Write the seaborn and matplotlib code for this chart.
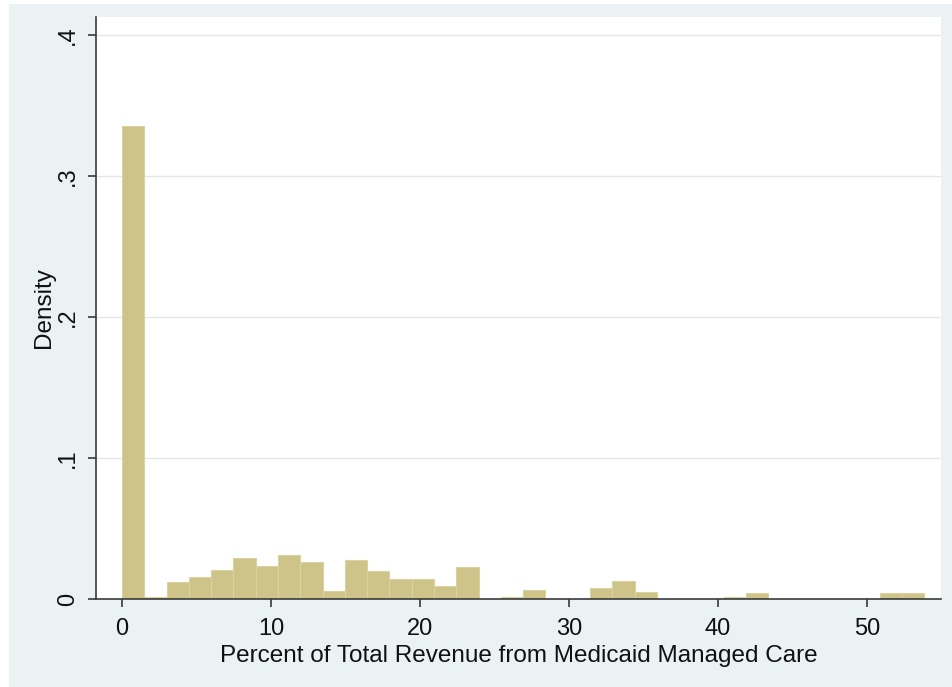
import numpy as np
import pandas as pd
import matplotlib
matplotlib.use("Agg")
import matplotlib.pyplot as plt
from matplotlib.patches import Rectangle
import seaborn as sns

# Histogram of hospitals' share of revenue from Medicaid managed care
bin_width = 1.496
n_bins = 36
densities = [0.3355, 0.0012, 0.0118, 0.0158, 0.0206, 0.0290, 0.0236, 0.0312,
             0.0262, 0.0054, 0.0279, 0.0201, 0.0139, 0.0144, 0.0094, 0.0227,
             0.0000, 0.0012, 0.0064, 0.0000, 0.0000, 0.0078, 0.0125, 0.0047,
             0.0000, 0.0000, 0.0000, 0.0012, 0.0040, 0.0000, 0.0000, 0.0000,
             0.0000, 0.0000, 0.0045, 0.0040]
x_ticks = [0, 10, 20, 30, 40, 50]
y_ticks = [0, 0.1, 0.2, 0.3, 0.4]
y_tick_labels = ["0", ".1", ".2", ".3", ".4"]
x_title = "Percent of Total Revenue from Medicaid Managed Care"
y_title = "Density"

edges = np.arange(n_bins + 1) * bin_width
centers = (edges[:-1] + edges[1:]) / 2
df = pd.DataFrame({"pct": centers, "density": densities})

sns.set_theme(style="white")
plt.rcParams["font.family"] = ["Liberation Sans", "DejaVu Sans"]

bg = "#EAF2F3"
fig = plt.figure(figsize=(9.52, 6.87), dpi=100, facecolor="white")
fig.patches.append(Rectangle((9 / 952, 0), 1, 1 - 4 / 687, transform=fig.transFigure,
                             facecolor=bg, edgecolor="none", zorder=-10))
ax = fig.add_axes([96 / 952, 88 / 687, 845 / 952, 582 / 687])
ax.set_facecolor("white")

ax.yaxis.grid(True, color="#E6E6E6", linewidth=1.0)
ax.set_axisbelow(True)

sns.histplot(data=df, x="pct", weights="density", binwidth=bin_width,
             binrange=(edges[0], edges[-1]), stat="count",
             color="#CEC48A", edgecolor="#D9D2A2", linewidth=0.8, alpha=1.0, ax=ax)

ax.set_xlim(-1.745, 54.97)
ax.set_ylim(0, 0.4128)
ax.set_xticks(x_ticks)
ax.set_yticks(y_ticks)
ax.set_yticklabels(y_tick_labels)

for side in ["top", "right"]:
    ax.spines[side].set_visible(False)
for side in ["left", "bottom"]:
    ax.spines[side].set_color("#3A3A3A")
    ax.spines[side].set_linewidth(1.2)

ax.tick_params(axis="both", direction="out", length=6, width=1.2, color="#3A3A3A",
               labelsize=17, labelcolor="#111111", bottom=True, left=True)
ax.tick_params(axis="x", pad=8)
ax.tick_params(axis="y", pad=6)
for lbl in ax.get_yticklabels():
    lbl.set_rotation(90)
    lbl.set_va("center")

ax.set_xlabel(x_title, fontsize=17.5, color="#111111", labelpad=3)
ax.set_ylabel(y_title, fontsize=17.5, color="#111111", labelpad=2)

fig.savefig("out.png", dpi=100, facecolor=fig.get_facecolor())
